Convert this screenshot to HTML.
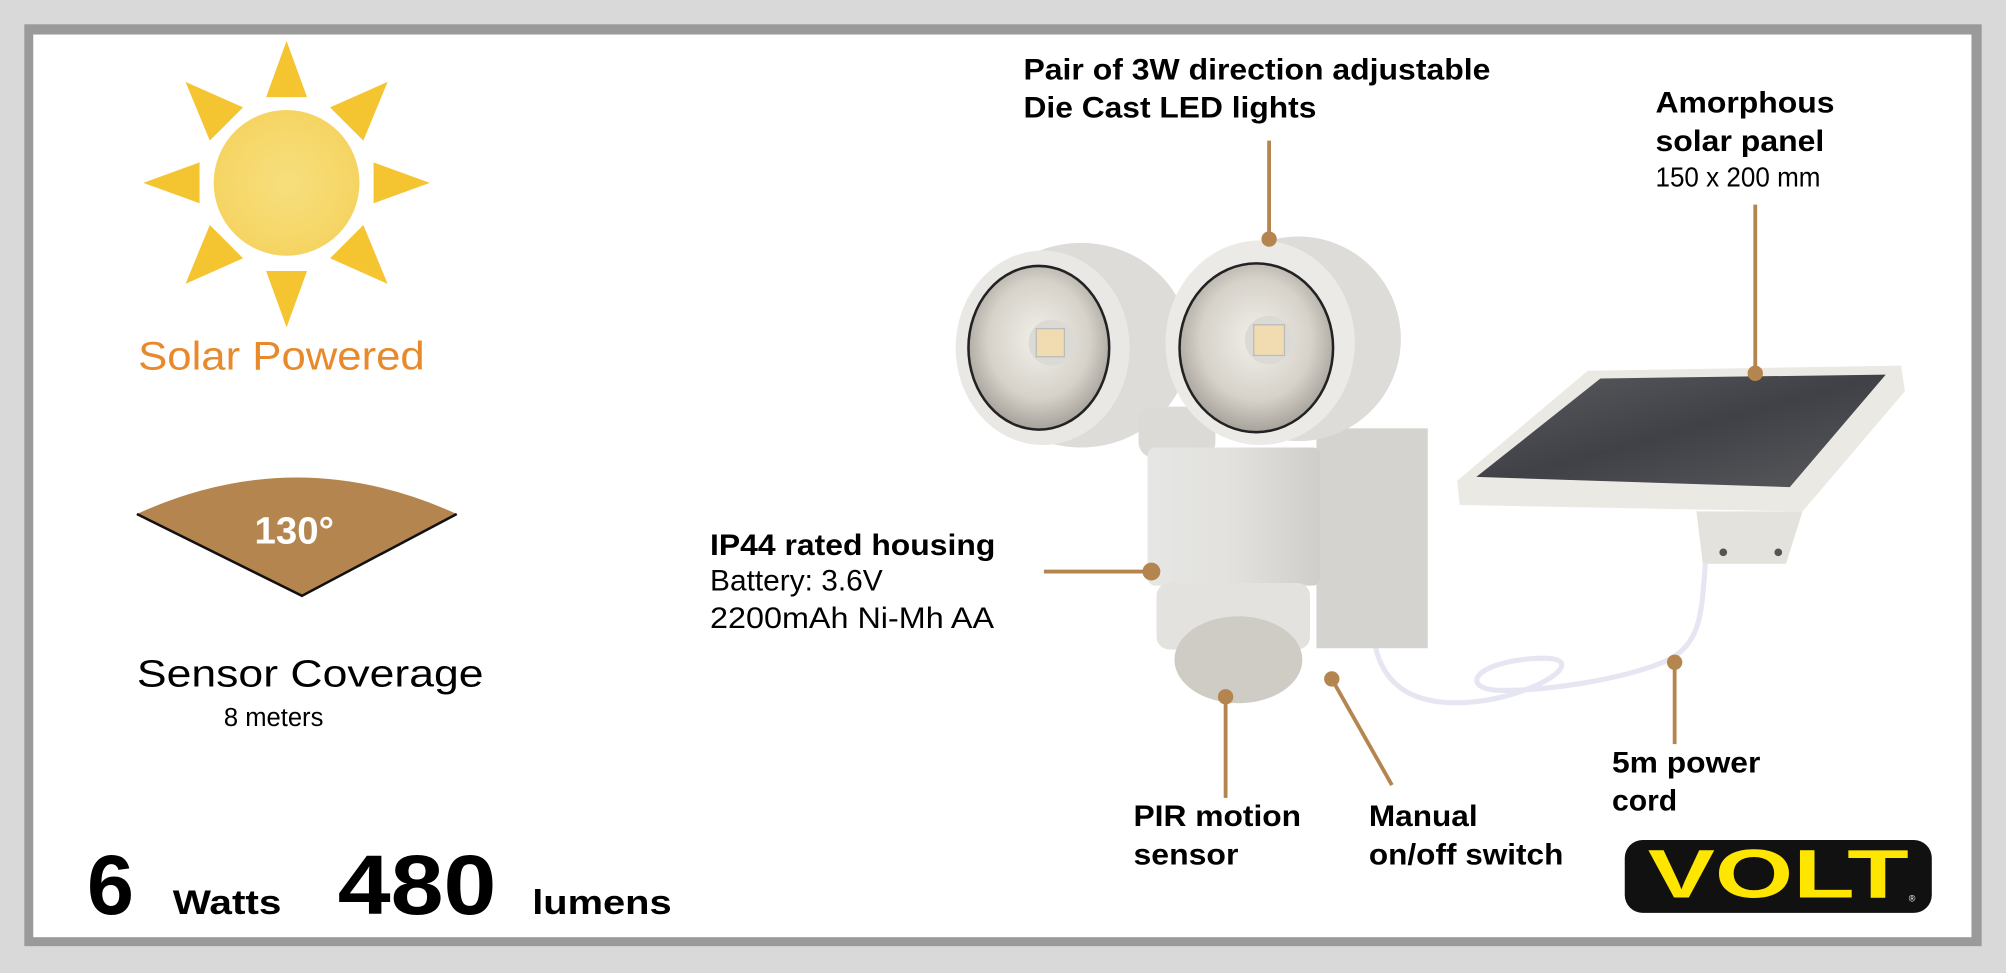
<!DOCTYPE html>
<html><head><meta charset="utf-8"><style>
html,body{margin:0;padding:0;background:#d9d9d9;}
svg{display:block;}
text{font-family:"Liberation Sans",sans-serif;}
</style></head><body>
<svg width="2006" height="973" viewBox="0 0 1568 761" preserveAspectRatio="none" xmlns="http://www.w3.org/2000/svg">
<defs>
<radialGradient id="sun" cx="0.5" cy="0.5" r="0.5"><stop offset="0" stop-color="#f7df7e"/><stop offset="1" stop-color="#f5d462"/></radialGradient>
<radialGradient id="lens" cx="0.5" cy="0.45" r="0.6"><stop offset="0" stop-color="#f2f0ea"/><stop offset="0.6" stop-color="#d6d2ca"/><stop offset="1" stop-color="#9a968f"/></radialGradient>
<linearGradient id="body" x1="0" x2="1"><stop offset="0" stop-color="#e6e6e4"/><stop offset="0.5" stop-color="#e2e1de"/><stop offset="1" stop-color="#cfcecb"/></linearGradient>
<linearGradient id="glass" x1="0" y1="0" x2="1" y2="1"><stop offset="0" stop-color="#5a5c60"/><stop offset="0.5" stop-color="#3f4146"/><stop offset="1" stop-color="#5a5a5e"/></linearGradient>
</defs>
<rect x="0" y="0" width="1568" height="761" fill="#d9d9d9"/>
<rect x="19" y="19" width="1530" height="721" fill="#9a9a9a"/>
<rect x="26" y="27" width="1515" height="706" fill="#ffffff"/>

<!-- sun -->
<g fill="#f5c431">
<polygon points="224,32 208,76 240,76"/>
<polygon points="224,256 208,212 240,212"/>
<polygon points="112,143 156,127 156,159"/>
<polygon points="336,143 292,127 292,159"/>
<polygon points="145,64 190,84 164,110"/>
<polygon points="303,64 258,84 284,110"/>
<polygon points="145,222 190,202 164,176"/>
<polygon points="303,222 258,202 284,176"/>
</g>
<circle cx="224" cy="143" r="57" fill="url(#sun)"/>
<text x="108" y="289" font-size="31" fill="#e8892b" textLength="224" lengthAdjust="spacingAndGlyphs">Solar Powered</text>

<!-- fan -->
<path d="M107,402 Q232,345 357,402 L236,466 Z" fill="#b5854f"/>
<polyline points="107,402 236,466 357,402" fill="none" stroke="#111" stroke-width="2"/>
<text x="230" y="425" font-size="30" font-weight="bold" fill="#fff" text-anchor="middle">130°</text>
<text x="107" y="537" font-size="30" fill="#000" textLength="271" lengthAdjust="spacingAndGlyphs">Sensor Coverage</text>
<text x="175" y="568" font-size="20" fill="#000">8 meters</text>

<text x="68" y="715" font-size="66" font-weight="bold" fill="#000">6</text>
<text x="135" y="715" font-size="27" font-weight="bold" fill="#000" textLength="85" lengthAdjust="spacingAndGlyphs">Watts</text>
<text x="264" y="715" font-size="66" font-weight="bold" fill="#000" textLength="124" lengthAdjust="spacingAndGlyphs">480</text>
<text x="416" y="715" font-size="27" font-weight="bold" fill="#000" textLength="109" lengthAdjust="spacingAndGlyphs">lumens</text>

<!-- cord -->
<path d="M1333,441 C1330,480 1330,505 1300,518 C1265,532 1210,540 1175,540 C1140,540 1150,518 1200,515 C1245,512 1210,540 1160,548 C1110,555 1080,540 1074,500" fill="none" stroke="#e6e6f2" stroke-width="4"/>

<!-- solar panel -->
<polygon points="1326,400 1409,400 1396,441 1331,441" fill="#e4e2dc"/>
<circle cx="1347" cy="432" r="3" fill="#555"/><circle cx="1390" cy="432" r="3" fill="#555"/>
<polygon points="1241,290 1486,286 1489,306 1409,400 1141,395 1139,376" fill="#ebe9e4"/>
<polygon points="1251,296 1474,293 1399,381 1154,373" fill="url(#glass)"/>

<!-- lamp: left head -->
<ellipse cx="845" cy="270" rx="85" ry="80" fill="#dedcd8"/>
<ellipse cx="815" cy="272" rx="68" ry="76" fill="#e9e8e5"/>
<ellipse cx="812" cy="272" rx="55" ry="64" fill="url(#lens)" stroke="#222" stroke-width="2"/>
<circle cx="822" cy="268" r="18" fill="#dcdad4"/>
<rect x="810" y="257" width="22" height="22" fill="#f0dcb0" stroke="#bbb"/>
<!-- arm -->
<rect x="890" y="318" width="60" height="40" rx="12" fill="#dcdad6"/>
<!-- box -->
<rect x="1029" y="335" width="87" height="172" fill="#d4d3d0"/>
<!-- body -->
<rect x="897" y="350" width="135" height="108" rx="6" fill="url(#body)"/>
<rect x="904" y="456" width="120" height="52" rx="10" fill="#e3e2df"/>
<ellipse cx="968" cy="516" rx="50" ry="34" fill="#cfccc6"/>
<!-- right head -->
<ellipse cx="1015" cy="265" rx="80" ry="80" fill="#dedcd8"/>
<ellipse cx="985" cy="268" rx="74" ry="80" fill="#ebeae7"/>
<ellipse cx="982" cy="272" rx="60" ry="66" fill="url(#lens)" stroke="#222" stroke-width="2"/>
<circle cx="992" cy="266" r="19" fill="#dcdad4"/>
<rect x="980" y="254" width="24" height="24" fill="#f0dcb0" stroke="#bbb"/>

<!-- connectors -->
<g stroke="#b5854f" stroke-width="3" fill="#b5854f">
<line x1="992" y1="110" x2="992" y2="187"/><circle cx="992" cy="187" r="6" stroke="none"/>
<line x1="1372" y1="160" x2="1372" y2="292"/><circle cx="1372" cy="292" r="6" stroke="none"/>
<line x1="816" y1="447" x2="900" y2="447"/><circle cx="900" cy="447" r="7" stroke="none"/>
<line x1="958" y1="545" x2="958" y2="624"/><circle cx="958" cy="545" r="6" stroke="none"/>
<line x1="1041" y1="531" x2="1088" y2="614"/><circle cx="1041" cy="531" r="6" stroke="none"/>
<line x1="1309" y1="518" x2="1309" y2="582"/><circle cx="1309" cy="518" r="6" stroke="none"/>
</g>

<!-- labels -->
<g font-size="23" fill="#000">
<text x="800" y="62" font-weight="bold" textLength="365" lengthAdjust="spacingAndGlyphs">Pair of 3W direction adjustable</text>
<text x="800" y="92" font-weight="bold" textLength="229" lengthAdjust="spacingAndGlyphs">Die Cast LED lights</text>
<text x="1294" y="88" font-weight="bold" textLength="140" lengthAdjust="spacingAndGlyphs">Amorphous</text>
<text x="1294" y="118" font-weight="bold" textLength="132" lengthAdjust="spacingAndGlyphs">solar panel</text>
<text x="1294" y="146" font-size="22" textLength="129" lengthAdjust="spacingAndGlyphs">150 x 200 mm</text>
<text x="555" y="434" font-weight="bold" textLength="223" lengthAdjust="spacingAndGlyphs">IP44 rated housing</text>
<text x="555" y="462" textLength="135" lengthAdjust="spacingAndGlyphs">Battery: 3.6V</text>
<text x="555" y="491" textLength="222" lengthAdjust="spacingAndGlyphs">2200mAh Ni-Mh AA</text>
<text x="886" y="646" font-weight="bold" textLength="131" lengthAdjust="spacingAndGlyphs">PIR motion</text>
<text x="886" y="676" font-weight="bold" textLength="82" lengthAdjust="spacingAndGlyphs">sensor</text>
<text x="1070" y="646" font-weight="bold" textLength="85" lengthAdjust="spacingAndGlyphs">Manual</text>
<text x="1070" y="676" font-weight="bold" textLength="152" lengthAdjust="spacingAndGlyphs">on/off switch</text>
<text x="1260" y="604" font-weight="bold" textLength="116" lengthAdjust="spacingAndGlyphs">5m power</text>
<text x="1260" y="634" font-weight="bold" textLength="51" lengthAdjust="spacingAndGlyphs">cord</text>
</g>

<!-- VOLT logo -->
<rect x="1270" y="657" width="240" height="57" rx="14" fill="#111"/>
<text x="1288" y="702" font-size="54" font-weight="bold" fill="#ffe600" textLength="204" lengthAdjust="spacingAndGlyphs">VOLT</text>
<text x="1492" y="705" font-size="7" fill="#fff">®</text>
</svg>
</body></html>
